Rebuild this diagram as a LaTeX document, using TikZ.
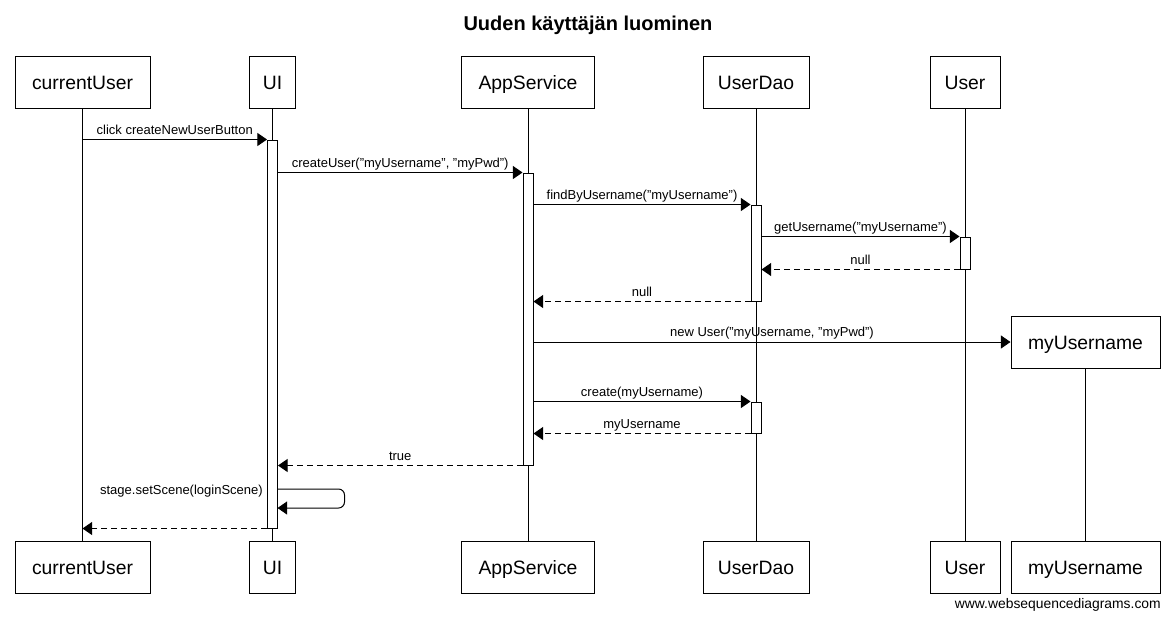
\documentclass[tikz,border=0pt]{standalone}
\usepackage{fontspec}
\setmainfont{Liberation Sans}
\usetikzlibrary{arrows.meta,fit}

\tikzset{
	actorBox/.style={rectangle, draw, line width=0.75pt, minimum height=39pt, inner sep=0pt, font=\fontsize{14.5}{17}\selectfont, text height=10.5pt, text depth=0pt},
	actBar/.style={rectangle, draw, fill=white, line width=0.75pt, inner sep=0pt},
	lifeLine/.style={line width=0.75pt},
	msgCall/.style={line width=0.75pt, -{Triangle[length=7.2pt, width=9.75pt]}},
	msgReturn/.style={msgCall, dash pattern=on 4.5pt off 3pt},
	msgLabel/.style={font=\fontsize{9.75}{11}\selectfont, text depth=0pt, inner sep=3.75pt}
}

\begin{document}
\begin{tikzpicture}[x=0.75pt, y=-0.75pt]
	\useasboundingbox (0,0) rectangle (1173,619);

	\node[font=\fontsize{15}{18}\selectfont\bfseries, anchor=base](titleText) at (588,30){Uuden käyttäjän luominen};

	% participants, top
	\node[actorBox, minimum width=101.25pt](currentUserBox) at (82.5,82){currentUser};
	\node[actorBox, minimum width=34.5pt](uiBox) at (272.5,82){UI};
	\node[actorBox, minimum width=99.75pt](appServiceBox) at (528,82){AppService};
	\node[actorBox, minimum width=79.5pt](userDaoBox) at (756,82){UserDao};
	\node[actorBox, minimum width=52.5pt](userBox) at (965,82){User};
	\node[actorBox, minimum width=111.75pt](myUsernameBox) at (1085.5,342){myUsername};

	% participants, bottom
	\node[actorBox, minimum width=101.25pt](currentUserBoxEnd) at (82.5,567){currentUser};
	\node[actorBox, minimum width=34.5pt](uiBoxEnd) at (272.5,567){UI};
	\node[actorBox, minimum width=99.75pt](appServiceBoxEnd) at (528,567){AppService};
	\node[actorBox, minimum width=79.5pt](userDaoBoxEnd) at (756,567){UserDao};
	\node[actorBox, minimum width=52.5pt](userBoxEnd) at (965,567){User};
	\node[actorBox, minimum width=111.75pt](myUsernameBoxEnd) at (1085.5,567){myUsername};

	% lifelines
	\draw[lifeLine] (currentUserBox) -- (currentUserBoxEnd);
	\draw[lifeLine] (uiBox) -- (uiBoxEnd);
	\draw[lifeLine] (appServiceBox) -- (appServiceBoxEnd);
	\draw[lifeLine] (userDaoBox) -- (userDaoBoxEnd);
	\draw[lifeLine] (userBox) -- (userBoxEnd);
	\draw[lifeLine] (myUsernameBox) -- (myUsernameBoxEnd);

	% activations
	\node[actBar, fit={(267.5,140) (277.5,528)}](uiBar){};
	\node[actBar, fit={(523,173) (533,465)}](appServiceBar){};
	\node[actBar, fit={(751,205) (761,301)}](userDaoBar1){};
	\node[actBar, fit={(960,237) (970,269)}](userBar){};
	\node[actBar, fit={(751,402) (761,433)}](userDaoBar2){};

	% messages
	\draw[msgCall] (uiBar.north west -| currentUserBox) -- node[msgLabel, above]{click createNewUserButton} (uiBar.north west);
	\draw[msgCall] (uiBar.east |- appServiceBar.north) -- node[msgLabel, above]{createUser("myUsername", "myPwd")} (appServiceBar.north west);
	\draw[msgCall] (appServiceBar.east |- userDaoBar1.north) -- node[msgLabel, above]{findByUsername("myUsername")} (userDaoBar1.north west);
	\draw[msgCall] (userDaoBar1.east |- userBar.north) -- node[msgLabel, above]{getUsername("myUsername")} (userBar.north west);
	\draw[msgReturn] (userBar.south west) -- node[msgLabel, above]{null} (userDaoBar1.east |- userBar.south);
	\draw[msgReturn] (userDaoBar1.south west) -- node[msgLabel, above]{null} (appServiceBar.east |- userDaoBar1.south);
	\draw[msgCall] (appServiceBar.east |- myUsernameBox.west) -- node[msgLabel, above]{new User("myUsername, "myPwd")} (myUsernameBox.west);
	\draw[msgCall] (appServiceBar.east |- userDaoBar2.north) -- node[msgLabel, above]{create(myUsername)} (userDaoBar2.north west);
	\draw[msgReturn] (userDaoBar2.south west) -- node[msgLabel, above]{myUsername} (appServiceBar.east |- userDaoBar2.south);
	\draw[msgReturn] (appServiceBar.south west) -- node[msgLabel, above]{true} (uiBar.east |- appServiceBar.south);

	% self call
	\coordinate (selfStart) at (277.5,489);
	\coordinate (selfEnd) at (277.5,508);
	\draw[msgCall, rounded corners=4.5pt] (selfStart) -- ++(67,0) |- (selfEnd);
	\node[msgLabel, anchor=base east, inner sep=0pt](selfLabel) at (263,494){stage.setScene(loginScene)};

	\draw[msgReturn] (uiBar.south west) -- (uiBar.south west -| currentUserBox);

	\node[font=\fontsize{10.4}{12}\selectfont, anchor=base east, inner sep=0pt](footerText) at (1161,608){www.websequencediagrams.com};
\end{tikzpicture}
\end{document}
